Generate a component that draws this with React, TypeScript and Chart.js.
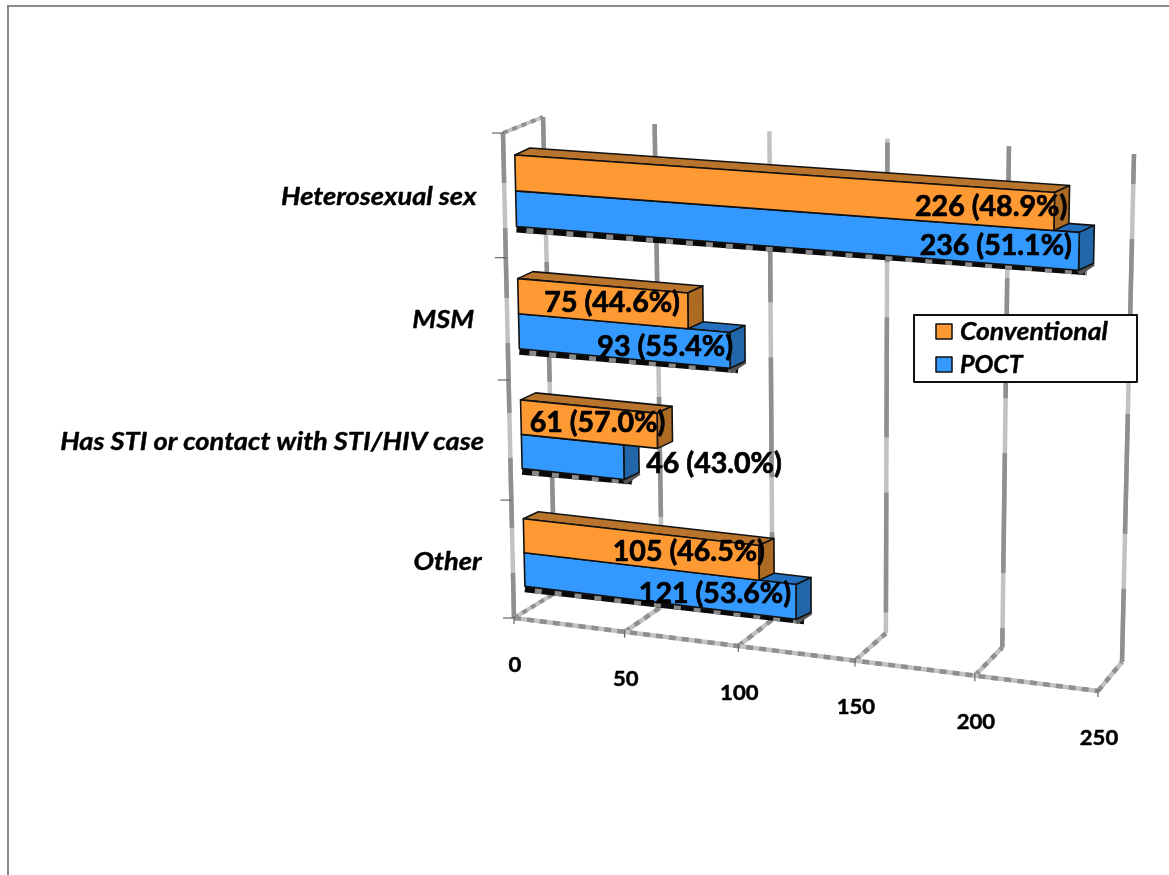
import React, { useEffect, useRef } from "react";
import { Chart, registerables } from "chart.js";

Chart.register(...registerables);

const categories = ["Heterosexual sex", "MSM", "Has STI or contact with STI/HIV case", "Other"];
const conventional = [226, 75, 61, 105];
const poct = [236, 93, 46, 121];
const conventionalPct = [48.9, 44.6, 57.0, 46.5];
const poctPct = [51.1, 55.4, 43.0, 53.6];
const axisMin = 0;
const axisMax = 250;
const axisStep = 50;

type Pt = [number, number];

// Builds a mapping from the unit square onto a quadrilateral (perspective wall).
function homography(q: Pt[]) {
  const [[x0, y0], [x1, y1], [x2, y2], [x3, y3]] = q;
  const dx1 = x1 - x2, dx2 = x3 - x2, sx = x0 - x1 + x2 - x3;
  const dy1 = y1 - y2, dy2 = y3 - y2, sy = y0 - y1 + y2 - y3;
  const den = dx1 * dy2 - dx2 * dy1;
  const g = (sx * dy2 - dx2 * sy) / den;
  const h = (dx1 * sy - sx * dy1) / den;
  const a = x1 - x0 + g * x1, b = x3 - x0 + h * x3;
  const d = y1 - y0 + g * y1, e = y3 - y0 + h * y3;
  return (u: number, v: number): Pt => {
    const w = g * u + h * v + 1;
    return [(a * u + b * v + x0) / w, (d * u + e * v + y0) / w];
  };
}

const frontPlane = homography([[503, 133], [1110, 174], [1098, 691], [514, 618]]);
const backPlane = homography([[543, 117], [1134, 154], [1122, 662], [555, 593]]);

const BAR_FRONT = 0.28;
const BAR_DEPTH: Pt = [15, -7];
const ORANGE = { front: "#FF9933", top: "#B8742C", side: "#AD6A22" };
const BLUE = { front: "#3399FF", top: "#2470BE", side: "#2266AA" };
const LABEL_FONT = "Lato, Carlito, sans-serif";

// Offsets for the value labels, keyed by dataset then category.
const labelNudgeX = [
  [13, -8, 8, 6],
  [-7, 3, 158, -5],
];
const labelNudgeY = [
  [-7, -10, -10, -13],
  [-7, -5, 0, -10],
];
const categoryNudgeX = [-28, -33, -26, -31];
const categoryNudgeY = [1, 1, 2, 3];

const perspective3d: any = {
  id: "perspective3d",
  beforeDatasetsDraw(chart: any) {
    const { ctx, chartArea: area, scales } = chart;
    const sx = scales.x, sy = scales.y;
    const project = (px: number, py: number, depth: number): Pt => {
      const u = (px - area.left) / (area.right - area.left);
      const v = (py - area.top) / (area.bottom - area.top);
      const f = frontPlane(u, v), b = backPlane(u, v);
      return [f[0] + (b[0] - f[0]) * depth, f[1] + (b[1] - f[1]) * depth];
    };
    const behind = (p: Pt): Pt => [p[0] + BAR_DEPTH[0], p[1] + BAR_DEPTH[1]];
    const line = (p: Pt, q: Pt, width: number, color: string, dash: number[] = [], offset = 0) => {
      ctx.save();
      ctx.beginPath();
      ctx.moveTo(p[0], p[1]);
      ctx.lineTo(q[0], q[1]);
      ctx.lineWidth = width;
      ctx.strokeStyle = color;
      ctx.lineCap = "butt";
      ctx.setLineDash(dash);
      ctx.lineDashOffset = offset;
      ctx.stroke();
      ctx.restore();
    };
    const poly = (pts: Pt[], fill: string, edge = "#111", width = 1.6) => {
      ctx.beginPath();
      pts.forEach((p, i) => (i ? ctx.lineTo(p[0], p[1]) : ctx.moveTo(p[0], p[1])));
      ctx.closePath();
      ctx.fillStyle = fill;
      ctx.fill();
      ctx.lineWidth = width;
      ctx.strokeStyle = edge;
      ctx.lineJoin = "round";
      ctx.stroke();
    };
    const gridLine = (p: Pt, q: Pt, width: number, dash: number[], offset: number) => {
      line(p, q, width, "#C2C2C2");
      line(p, q, width, "#8F8F8F", dash, offset);
    };
    // Text drawn with a horizontal stretch and a hairline stroke for extra weight.
    const text = (s: string, x: number, y: number, font: string, align: any, stretch: number, weight: number) => {
      ctx.save();
      ctx.translate(x, y);
      ctx.scale(stretch, 1);
      ctx.font = font;
      ctx.textAlign = align;
      ctx.textBaseline = "middle";
      ctx.fillStyle = "#000";
      ctx.strokeStyle = "#000";
      ctx.lineWidth = weight;
      ctx.lineJoin = "round";
      ctx.strokeText(s, 0, 0);
      ctx.fillText(s, 0, 0);
      ctx.restore();
    };

    // Page frame
    ctx.save();
    ctx.fillStyle = "#8A8A8A";
    ctx.fillRect(7, 5, 2, 870);
    ctx.fillRect(7, 5, 1162, 2);
    ctx.restore();

    const top = area.top, bottom = area.bottom, left = area.left;

    // Left wall outline
    gridLine(project(left, top, 0), project(left, bottom, 0), 4.5, [70, 45], 20);
    gridLine(project(left, top, 0), project(left, top, 1), 4, [5, 5], 0);
    gridLine(project(left, bottom, 0), project(left, bottom, 1), 4, [5, 5], 0);

    // Value gridlines on the back wall and across the floor
    sx.ticks.forEach((t: any, i: number) => {
      const px = sx.getPixelForValue(t.value);
      gridLine(project(px, top, 1), project(px, bottom, 1), 4.5, [120, 55], 30 + i * 47);
      if (i > 0) gridLine(project(px, bottom, 0), project(px, bottom, 1), 4.5, [6, 6], 0);
    });
    // Floor front edge
    gridLine(project(left, bottom, 0), project(area.right, bottom, 0), 4.5, [7, 6], 0);

    // Tick marks on both axes
    sx.ticks.forEach((t: any) => {
      const p = project(sx.getPixelForValue(t.value), bottom, 0);
      line([p[0], p[1] - 2], [p[0], p[1] + 6], 1.2, "#666");
    });
    const band = (bottom - top) / categories.length;
    for (let i = 0; i <= categories.length; i++) {
      const p = project(left, top + band * i, 0);
      line([p[0] - 11, p[1]], [p[0] + 1, p[1]], 1.2, "#666");
    }

    // Bars, lowest series first so the upper one overlaps it
    const palettes = [ORANGE, BLUE];
    for (let c = 0; c < categories.length; c++) {
      const lower = chart.getDatasetMeta(1).data[c].getProps(["x", "y", "base", "height"], true);
      const a = project(lower.base, lower.y + lower.height / 2, BAR_FRONT);
      const b = project(lower.x, lower.y + lower.height / 2, BAR_FRONT);
      const start: Pt = [a[0], a[1] + 3];
      const end: Pt = [b[0] + 8, b[1] + 2];
      line(start, end, 6, "#0A0A0A");
      line(start, end, 6, "#8A8A8A", [7, 13], -10);
      line([b[0], b[1] + 3], behind(b), 5, "#555");

      for (const ds of [1, 0]) {
        const el = chart.getDatasetMeta(ds).data[c].getProps(["x", "y", "base", "height"], true);
        const pal = palettes[ds];
        const y0 = el.y - el.height / 2, y1 = el.y + el.height / 2;
        const fTL = project(el.base, y0, BAR_FRONT), fTR = project(el.x, y0, BAR_FRONT);
        const fBR = project(el.x, y1, BAR_FRONT), fBL = project(el.base, y1, BAR_FRONT);
        poly([fTL, behind(fTL), behind(fTR), fTR], pal.top);
        poly([fTR, behind(fTR), behind(fBR), fBR], pal.side);
        poly([fTL, fTR, fBR, fBL], pal.front);
      }
    }

    // Value labels
    [conventionalPct, poctPct].forEach((pcts, ds) => {
      const vals = chart.data.datasets[ds].data;
      chart.getDatasetMeta(ds).data.forEach((bar: any, c: number) => {
        const el = bar.getProps(["x", "y"], true);
        const p = project(el.x, el.y, BAR_FRONT);
        text(`${vals[c]} (${pcts[c].toFixed(1)}%)`, p[0] + labelNudgeX[ds][c], p[1] + 2 + labelNudgeY[ds][c],
          `bold 28px ${LABEL_FONT}`, "right", 1.02, 0.7);
      });
    });

    // Category labels
    categories.forEach((name, i) => {
      const p = project(left, sy.getPixelForValue(i), 0);
      text(name, p[0] + categoryNudgeX[i], p[1] + categoryNudgeY[i], `italic bold 25px ${LABEL_FONT}`, "right", 1.09, 0.4);
    });

    // Value axis labels
    sx.ticks.forEach((t: any) => {
      const p = project(sx.getPixelForValue(t.value), bottom, 0);
      text(String(t.value), p[0] + 1, p[1] + 47, `bold 21px ${LABEL_FONT}`, "center", 1.05, 0.5);
    });

    // Legend box
    ctx.save();
    ctx.fillStyle = "#fff";
    ctx.fillRect(914, 315, 223, 67);
    ctx.lineWidth = 2;
    ctx.strokeStyle = "#111";
    ctx.strokeRect(914, 315, 223, 67);
    chart.data.datasets.forEach((d: any, i: number) => {
      const y = 324 + i * 33;
      ctx.fillStyle = d.backgroundColor;
      ctx.fillRect(936, y, 16, 15);
      ctx.lineWidth = 1.5;
      ctx.strokeStyle = "#111";
      ctx.strokeRect(936, y, 16, 15);
      text(d.label, 960, y + 8, `italic bold 25px ${LABEL_FONT}`, "left", i === 0 ? 1.06 : 1, 0.4);
    });
    ctx.restore();

    return false;
  },
};

export default function App() {
  const ref = useRef<HTMLCanvasElement>(null);
  useEffect(() => {
    const chart = new Chart(ref.current as HTMLCanvasElement, {
      type: "bar",
      data: {
        labels: categories,
        datasets: [
          { label: "Conventional", data: conventional, backgroundColor: ORANGE.front },
          { label: "POCT", data: poct, backgroundColor: BLUE.front },
        ],
      },
      options: {
        indexAxis: "y",
        animation: false,
        responsive: false,
        layout: { padding: { left: 510, right: 60, top: 130, bottom: 180 } },
        datasets: { bar: { categoryPercentage: 0.576, barPercentage: 1 } },
        scales: {
          x: { display: false, min: axisMin, max: axisMax, ticks: { stepSize: axisStep } },
          y: { display: false },
        },
        plugins: { legend: { display: false }, tooltip: { enabled: false } },
      },
      plugins: [perspective3d],
    } as any);
    return () => chart.destroy();
  }, []);
  return (
    <div style={{ position: "fixed", left: 0, top: 0, width: 1169, height: 875, background: "#fff" }}>
      <canvas ref={ref} width={1169} height={875} style={{ display: "block" }} />
    </div>
  );
}
